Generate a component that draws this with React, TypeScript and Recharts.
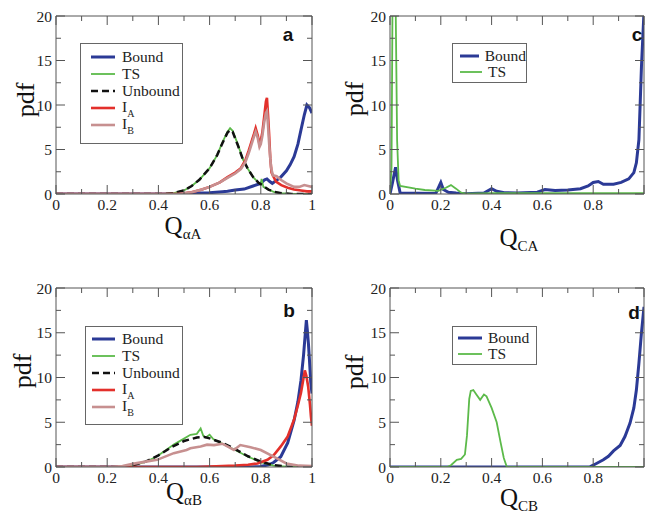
import React from 'react';
import { LineChart, Line, XAxis, YAxis, Legend } from 'recharts';

type Pt = [number, number];

// ---------- axis ticks ----------
const X_TICKS = [0, 0.1, 0.2, 0.3, 0.4, 0.5, 0.6, 0.7, 0.8, 0.9, 1];
const Y_TICKS = [0, 2.5, 5, 7.5, 10, 12.5, 15, 17.5, 20];

// ---------- panel a : Q_alphaA ----------
const A_BOUND: Pt[] = [[0, 0], [0.45, 0], [0.5, 0.05], [0.55, 0.1], [0.6, 0.15], [0.65, 0.25], [0.67, 0.3], [0.7, 0.45], [0.735, 0.55], [0.77, 0.9], [0.8, 1.2], [0.815, 1.6], [0.824, 1.7], [0.835, 1.4], [0.845, 1.2], [0.86, 1.5], [0.878, 1.9], [0.9, 2.6], [0.915, 3.3], [0.93, 4.2], [0.945, 5.6], [0.957, 7.2], [0.97, 8.9], [0.98, 10], [0.99, 9.7], [1, 9.1]];
const A_TS: Pt[] = [[0, 0], [0.42, 0], [0.46, 0.1], [0.5, 0.4], [0.53, 0.9], [0.56, 1.6], [0.6, 2.9], [0.63, 4.4], [0.65, 5.8], [0.67, 7.0], [0.68, 7.4], [0.69, 7.1], [0.71, 5.6], [0.73, 3.9], [0.75, 2.8], [0.77, 1.9], [0.79, 1.3], [0.8, 1.1], [0.803, 1.7], [0.81, 0.8], [0.83, 0.5], [0.85, 0.25], [0.88, 0.1], [0.92, 0], [1, 0]];
const A_UNBOUND: Pt[] = [[0, 0], [0.42, 0], [0.46, 0.1], [0.5, 0.4], [0.53, 0.9], [0.56, 1.6], [0.6, 2.9], [0.63, 4.4], [0.65, 5.7], [0.67, 6.9], [0.68, 7.2], [0.69, 7.0], [0.71, 5.5], [0.73, 3.9], [0.75, 2.8], [0.77, 1.9], [0.79, 1.3], [0.81, 0.9], [0.83, 0.5], [0.85, 0.25], [0.88, 0.1], [0.92, 0], [1, 0]];
const A_IA: Pt[] = [[0, 0], [0.48, 0], [0.53, 0.2], [0.57, 0.5], [0.6, 0.8], [0.64, 1.3], [0.67, 1.9], [0.7, 2.4], [0.722, 2.9], [0.74, 3.8], [0.753, 4.9], [0.765, 6.0], [0.774, 6.8], [0.78, 7.4], [0.788, 6.6], [0.795, 5.6], [0.8, 6.0], [0.806, 6.9], [0.813, 8.6], [0.82, 10.4], [0.824, 10.8], [0.828, 9.0], [0.832, 7.0], [0.837, 4.0], [0.842, 2.4], [0.859, 1.4], [0.88, 1.0], [0.905, 0.7], [0.93, 0.5], [0.957, 0.4], [0.98, 0.3], [1, 0.3]];
const A_IB: Pt[] = [[0, 0], [0.48, 0], [0.53, 0.2], [0.57, 0.5], [0.6, 0.8], [0.64, 1.3], [0.67, 1.8], [0.7, 2.3], [0.722, 2.8], [0.74, 3.6], [0.753, 4.6], [0.765, 5.7], [0.774, 6.5], [0.78, 7.0], [0.788, 6.3], [0.795, 5.3], [0.8, 5.6], [0.806, 6.5], [0.813, 8.0], [0.82, 9.1], [0.824, 9.3], [0.828, 7.8], [0.833, 5.5], [0.84, 3.0], [0.847, 2.1], [0.862, 2.0], [0.878, 1.6], [0.9, 1.2], [0.93, 0.8], [0.95, 0.8], [0.97, 1.0], [0.985, 0.9], [1, 0.8]];

// ---------- panel b : Q_alphaB ----------
const B_BOUND: Pt[] = [[0, 0], [0.75, 0], [0.8, 0.05], [0.83, 0.25], [0.85, 0.5], [0.878, 1.15], [0.905, 2.7], [0.93, 5.2], [0.945, 7.3], [0.957, 9.7], [0.967, 12.5], [0.974, 15.0], [0.978, 16.4], [0.982, 15.2], [0.986, 13.8], [0.99, 12.0], [0.995, 9.5], [1, 8.2]];
const B_TS: Pt[] = [[0, 0], [0.24, 0], [0.263, 0.05], [0.3, 0.2], [0.33, 0.4], [0.36, 0.7], [0.395, 1.2], [0.43, 1.9], [0.46, 2.5], [0.49, 3.0], [0.525, 3.6], [0.55, 3.7], [0.565, 4.3], [0.575, 3.5], [0.585, 3.3], [0.6, 3.6], [0.615, 3.1], [0.65, 2.6], [0.7, 1.9], [0.75, 1.15], [0.8, 0.55], [0.85, 0.15], [0.9, 0.05], [0.95, 0], [1, 0]];
const B_UNBOUND: Pt[] = [[0, 0], [0.26, 0], [0.3, 0.2], [0.35, 0.6], [0.4, 1.3], [0.45, 2.2], [0.5, 2.9], [0.55, 3.3], [0.58, 3.35], [0.6, 3.2], [0.65, 2.7], [0.7, 2.0], [0.75, 1.2], [0.8, 0.6], [0.85, 0.2], [0.9, 0.05], [0.95, 0], [1, 0]];
const B_IA: Pt[] = [[0, 0], [0.55, 0], [0.6, 0.05], [0.7, 0.15], [0.75, 0.25], [0.787, 0.4], [0.826, 0.8], [0.85, 1.3], [0.878, 2.3], [0.905, 3.4], [0.93, 5.3], [0.945, 6.9], [0.957, 8.3], [0.965, 9.6], [0.972, 10.8], [0.978, 10.2], [0.985, 9.0], [0.992, 7.0], [0.996, 5.6], [1, 4.6]];
const B_IB: Pt[] = [[0, 0], [0.22, 0], [0.26, 0.1], [0.3, 0.35], [0.35, 0.6], [0.395, 0.8], [0.46, 1.55], [0.51, 1.9], [0.525, 2.1], [0.565, 2.3], [0.59, 2.5], [0.617, 2.45], [0.65, 2.6], [0.695, 1.9], [0.72, 2.45], [0.76, 2.2], [0.8, 1.9], [0.85, 1.15], [0.9, 0.4], [0.95, 0.15], [1, 0.1]];

// ---------- panel c : Q_CA ----------
const C_BOUND: Pt[] = [[0, 0], [0.01, 1.3], [0.022, 3.0], [0.03, 1.5], [0.04, 0.1], [0.18, 0.05], [0.2, 1.3], [0.21, 0.5], [0.23, 0.2], [0.26, 0.1], [0.3, 0.02], [0.37, 0.1], [0.4, 0.6], [0.42, 0.3], [0.45, 0.15], [0.5, 0.1], [0.58, 0.2], [0.61, 0.5], [0.65, 0.4], [0.7, 0.45], [0.75, 0.6], [0.78, 0.9], [0.8, 1.3], [0.82, 1.4], [0.84, 1.1], [0.88, 1.1], [0.91, 1.3], [0.94, 1.7], [0.96, 2.4], [0.97, 3.5], [0.98, 6.1], [0.99, 14.3], [1, 20.5]];
const C_TS: Pt[] = [[0, 0], [0.006, 3], [0.01, 22], [0.022, 22], [0.028, 6], [0.034, 1.5], [0.04, 0.9], [0.1, 0.6], [0.137, 0.45], [0.19, 0.35], [0.22, 0.7], [0.24, 1.0], [0.26, 0.6], [0.28, 0.15], [0.3, 0.05], [0.4, 0.1], [0.6, 0.1], [0.8, 0.1], [0.9, 0.1], [1, 0.1]];

// ---------- panel d : Q_CB ----------
const D_BOUND: Pt[] = [[0, 0], [0.785, 0], [0.8, 0.2], [0.82, 0.5], [0.84, 0.8], [0.86, 1.2], [0.88, 1.8], [0.906, 2.4], [0.925, 3.4], [0.945, 4.9], [0.96, 6.6], [0.97, 8.6], [0.98, 11.6], [0.99, 15.0], [1, 17.9]];
const D_TS: Pt[] = [[0, 0], [0.225, 0], [0.24, 0.2], [0.263, 0.8], [0.28, 0.9], [0.295, 1.4], [0.303, 3.5], [0.312, 7.6], [0.318, 8.5], [0.328, 8.6], [0.34, 8.1], [0.355, 7.5], [0.37, 8.1], [0.38, 7.9], [0.4, 6.6], [0.42, 5.0], [0.435, 2.8], [0.448, 1.0], [0.46, 0], [1, 0]];

// ---------- styling ----------
const FRAME = '#555';
const SERIF = '"Liberation Serif", "Times New Roman", serif';
const SANS = '"Liberation Sans", Arial, sans-serif';

const STYLE: Record<string, { color: string; w: number; dash?: string }> = {
  Bound: { color: '#2b3a96', w: 3 },
  TS: { color: '#5cba4a', w: 1.8 },
  Unbound: { color: '#111111', w: 2.5, dash: '7 4' },
  I_A: { color: '#e3302b', w: 2.6 },
  I_B: { color: '#c79090', w: 2.6 },
};
const ORDER = ['Bound', 'TS', 'Unbound', 'I_A', 'I_B'];

const isMajorX = (v: number) => Math.round(v * 10) % 2 === 0;
const isMajorY = (v: number) => Math.round(v * 2) % 2 === 0;
const fmtX = (v: number) => (v === 0 ? '0' : v === 1 ? '1' : v.toFixed(1));

function makeTick(side: 'bottom' | 'top' | 'left' | 'right', hideLastX = false) {
  return (p: any) => {
    const { x, y, payload } = p;
    const v = payload.value as number;
    const horiz = side === 'bottom' || side === 'top';
    const major = horiz ? isMajorX(v) : isMajorY(v);
    const len = major ? 9 : 5;
    let line;
    if (side === 'bottom') line = <line x1={x} x2={x} y1={y} y2={y - len} stroke={FRAME} strokeWidth={1} />;
    else if (side === 'top') line = <line x1={x} x2={x} y1={y} y2={y + len} stroke={FRAME} strokeWidth={1} />;
    else if (side === 'left') line = <line x1={x} x2={x + len} y1={y} y2={y} stroke={FRAME} strokeWidth={1} />;
    else line = <line x1={x} x2={x - len} y1={y} y2={y} stroke={FRAME} strokeWidth={1} />;
    let label = null;
    if (side === 'bottom' && major && !(hideLastX && v === 1))
      label = (
        <text x={x} y={y + 16} textAnchor="middle" fontFamily={SERIF} fontSize={15.5} fill="#222">
          {fmtX(v)}
        </text>
      );
    if (side === 'left' && major)
      label = (
        <text x={x - 4} y={y + 5.5} textAnchor="end" fontFamily={SERIF} fontSize={15.5} fill="#222">
          {String(v)}
        </text>
      );
    return (
      <g>
        {line}
        {label}
      </g>
    );
  };
}

const renderName = (n: string) => {
  if (n === 'I_A' || n === 'I_B')
    return (
      <span>
        I<span style={{ fontSize: 10, position: 'relative', top: 5 }}>{n.slice(2)}</span>
      </span>
    );
  return n;
};

interface LegendBox { left: number; top: number; w: number; h: number; pt: number; pl: number; lw: number; gap: number; row: number }

const makeLegend = (box: LegendBox) => (props: any) => {
  const payload = [...(props.payload || [])].sort((a: any, b: any) => ORDER.indexOf(a.value) - ORDER.indexOf(b.value));
  return (
    <div
      style={{
        border: '1px solid #666',
        background: '#fff',
        width: box.w,
        height: box.h,
        boxSizing: 'border-box',
        paddingTop: box.pt,
        paddingLeft: box.pl,
      }}
    >
      {payload.map((e: any) => {
        const st = STYLE[e.value];
        return (
          <div key={e.value} style={{ display: 'flex', alignItems: 'center', height: box.row }}>
            <svg width={box.lw} height={6} style={{ display: 'block' }}>
              <line x1={0} x2={box.lw} y1={3} y2={3} stroke={st.color} strokeWidth={st.w} strokeDasharray={st.dash} />
            </svg>
            <span style={{ marginLeft: box.gap, fontFamily: SERIF, fontSize: 15.5, color: '#222', lineHeight: '16px' }}>
              {renderName(e.value)}
            </span>
          </div>
        );
      })}
    </div>
  );
};

interface Series { name: string; data: Pt[] }

interface PanelProps {
  left: number; top: number; width: number; height: number;
  margin: { top: number; right: number; bottom: number; left: number };
  series: Series[];
  legend: LegendBox;
  hideLastX: boolean;
  letter: string; letterPos: [number, number];
  pdfPos: [number, number];
  qSub: string; qPos: [number, number];
}

function Panel(p: PanelProps) {
  const { left, top, width, height, margin } = p;
  return (
    <div style={{ position: 'absolute', left, top, width, height }}>
      <LineChart width={width} height={height} margin={margin}>
        <XAxis xAxisId="b" dataKey="x" type="number" domain={[0, 1]} ticks={X_TICKS} interval={0} height={1}
          tickSize={0} tickMargin={0} tickLine={false} axisLine={{ stroke: FRAME }} tick={makeTick('bottom', p.hideLastX)} allowDataOverflow />
        <XAxis xAxisId="t" orientation="top" dataKey="x" type="number" domain={[0, 1]} ticks={X_TICKS} interval={0} height={1}
          tickSize={0} tickMargin={0} tickLine={false} axisLine={{ stroke: FRAME }} tick={makeTick('top')} allowDataOverflow />
        <YAxis yAxisId="l" type="number" domain={[0, 20]} ticks={Y_TICKS} interval={0} width={1}
          tickSize={0} tickMargin={0} tickLine={false} axisLine={{ stroke: FRAME }} tick={makeTick('left')} allowDataOverflow />
        <YAxis yAxisId="r" orientation="right" type="number" domain={[0, 20]} ticks={Y_TICKS} interval={0} width={1}
          tickSize={0} tickMargin={0} tickLine={false} axisLine={{ stroke: FRAME }} tick={makeTick('right')} allowDataOverflow />
        {p.series.map((s) => {
          const st = STYLE[s.name];
          return (
            <Line
              key={s.name}
              name={s.name}
              xAxisId="b"
              yAxisId="l"
              data={s.data.map(([x, y]) => ({ x, y }))}
              dataKey="y"
              type="linear"
              stroke={st.color}
              strokeWidth={st.w}
              strokeDasharray={st.dash}
              dot={false}
              activeDot={false}
              isAnimationActive={false}
            />
          );
        })}
        <Legend
          layout="vertical"
          align="center"
          verticalAlign="middle"
          content={makeLegend(p.legend)}
          wrapperStyle={{ position: 'absolute', left: p.legend.left - left, top: p.legend.top - top, width: p.legend.w, height: p.legend.h, margin: 0 }}
        />
      </LineChart>
    </div>
  );
}

const PANELS: PanelProps[] = [
  {
    left: 0, top: 0, width: 322, height: 255,
    margin: { top: 15, right: 9, bottom: 60, left: 55 },
    series: [
      { name: 'Bound', data: A_BOUND }, { name: 'TS', data: A_TS }, { name: 'Unbound', data: A_UNBOUND },
      { name: 'I_A', data: A_IA }, { name: 'I_B', data: A_IB },
    ],
    legend: { left: 80, top: 43, w: 103, h: 101, pt: 4, pl: 10, lw: 24, gap: 7, row: 17 },
    hideLastX: false,
    letter: 'a', letterPos: [288, 34], pdfPos: [26, 100], qSub: 'αA', qPos: [183, 234],
  },
  {
    left: 322, top: 0, width: 323, height: 255,
    margin: { top: 15, right: 0, bottom: 60, left: 67 },
    series: [{ name: 'Bound', data: C_BOUND }, { name: 'TS', data: C_TS }],
    legend: { left: 452, top: 43, w: 75, h: 40, pt: 4, pl: 7, lw: 22, gap: 6, row: 16 },
    hideLastX: true,
    letter: 'c', letterPos: [637, 34], pdfPos: [355, 99], qSub: 'CA', qPos: [519, 246],
  },
  {
    left: 0, top: 255, width: 322, height: 263,
    margin: { top: 32, right: 9, bottom: 50, left: 55 },
    series: [
      { name: 'Bound', data: B_BOUND }, { name: 'TS', data: B_TS }, { name: 'Unbound', data: B_UNBOUND },
      { name: 'I_A', data: B_IA }, { name: 'I_B', data: B_IB },
    ],
    legend: { left: 85, top: 326, w: 98, h: 99, pt: 3, pl: 6, lw: 23, gap: 7, row: 17 },
    hideLastX: false,
    letter: 'b', letterPos: [289, 310], pdfPos: [23, 371], qSub: 'αB', qPos: [184, 500],
  },
  {
    left: 322, top: 255, width: 323, height: 263,
    margin: { top: 32, right: 0, bottom: 50, left: 67 },
    series: [{ name: 'Bound', data: D_BOUND }, { name: 'TS', data: D_TS }],
    legend: { left: 452, top: 326, w: 85, h: 39, pt: 3, pl: 5, lw: 24, gap: 6, row: 16 },
    hideLastX: true,
    letter: 'd', letterPos: [634, 312], pdfPos: [355, 372], qSub: 'CB', qPos: [519, 506],
  },
];

export default function App() {
  return (
    <div style={{ position: 'absolute', left: 0, top: 0, width: 645, height: 518, background: '#fff', overflow: 'hidden' }}>
      {PANELS.map((p) => (
        <Panel key={p.letter} {...p} />
      ))}
      {PANELS.map((p) => (
        <React.Fragment key={'t' + p.letter}>
          <div style={{ position: 'absolute', left: p.letterPos[0], top: p.letterPos[1], transform: 'translate(-50%,-50%)', fontFamily: SANS, fontWeight: 'bold', fontSize: 19, color: '#111', lineHeight: 1 }}>
            {p.letter}
          </div>
          <div style={{ position: 'absolute', left: p.pdfPos[0], top: p.pdfPos[1], transform: 'translate(-50%,-50%) rotate(-90deg)', fontFamily: SERIF, fontSize: 26, color: '#111', lineHeight: 1, whiteSpace: 'nowrap' }}>
            pdf
          </div>
          <div style={{ position: 'absolute', left: p.qPos[0], top: p.qPos[1] - 21, transform: 'translateX(-50%)', fontFamily: SERIF, fontSize: 25, color: '#111', lineHeight: 1, whiteSpace: 'nowrap' }}>
            Q<span style={{ fontSize: 15, position: 'relative', top: 5 }}>{p.qSub}</span>
          </div>
        </React.Fragment>
      ))}
    </div>
  );
}
